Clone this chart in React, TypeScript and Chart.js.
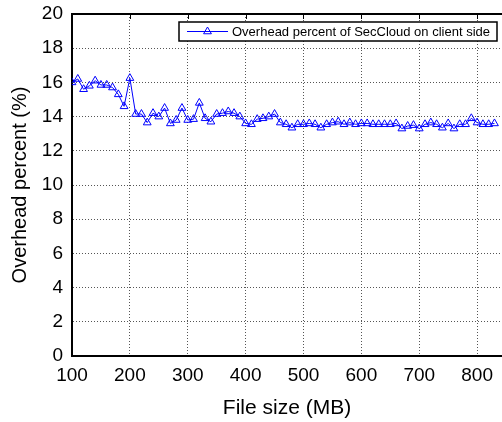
import React, { useEffect, useRef } from "react";
import { Chart, registerables } from "chart.js";

Chart.register(...registerables);

const fileSizes: number[] = [
  100, 110, 120, 130, 140, 150, 160, 170, 180, 190,
  200, 210, 220, 230, 240, 250, 260, 270, 280, 290,
  300, 310, 320, 330, 340, 350, 360, 370, 380, 390,
  400, 410, 420, 430, 440, 450, 460, 470, 480, 490,
  500, 510, 520, 530, 540, 550, 560, 570, 580, 590,
  600, 610, 620, 630, 640, 650, 660, 670, 680, 690,
  700, 710, 720, 730, 740, 750, 760, 770, 780, 790,
  800, 810, 820, 830,
];

const overheadPercent: number[] = [
  16.0, 16.2, 15.6, 15.8, 16.1, 15.85, 15.85, 15.7, 15.3, 14.6,
  16.25, 14.15, 14.15, 13.65, 14.2, 14.0, 14.5, 13.6, 13.8, 14.5,
  13.8, 13.85, 14.8, 13.9, 13.7, 14.15, 14.2, 14.3, 14.2, 14.0,
  13.6, 13.55, 13.85, 13.9, 14.0, 14.15, 13.65, 13.55, 13.35, 13.55,
  13.55, 13.6, 13.55, 13.35, 13.55, 13.65, 13.7, 13.55, 13.65, 13.55,
  13.6, 13.6, 13.55, 13.55, 13.55, 13.55, 13.6, 13.3, 13.45, 13.5,
  13.3, 13.55, 13.65, 13.55, 13.35, 13.6, 13.3, 13.55, 13.55, 13.9,
  13.65, 13.55, 13.55, 13.6,
];

const xTickValues: number[] = [100, 200, 300, 400, 500, 600, 700, 800];
const yTickValues: number[] = [0, 2, 4, 6, 8, 10, 12, 14, 16, 18, 20];

const seriesLabel = "Overhead percent of SecCloud on client side";
const xTitle = "File size (MB)";
const yTitle = "Overhead percent (%)";

const FONT = "'Liberation Sans', Arial, Helvetica, sans-serif";
const BLUE = "#0000ff";

const frameLegendPlugin = {
  id: "frameLegend",
  afterDraw(chart: any) {
    const { ctx, chartArea } = chart;
    const xs = chart.scales.x;
    ctx.save();
    ctx.strokeStyle = "#000";
    ctx.lineWidth = 2;
    ctx.beginPath();
    ctx.moveTo(chartArea.left - 1, chartArea.top);
    ctx.lineTo(chartArea.right, chartArea.top);
    ctx.stroke();
    ctx.lineWidth = 1;
    xs.ticks.forEach((t: any) => {
      const px = Math.round(xs.getPixelForValue(t.value)) + 0.5;
      ctx.beginPath();
      ctx.moveTo(px, chartArea.top);
      ctx.lineTo(px, chartArea.top + 5);
      ctx.stroke();
    });

    const w = 318;
    const h = 19;
    const bx = chartArea.right - 5 - w;
    const by = chartArea.top + 8;
    ctx.fillStyle = "#fff";
    ctx.fillRect(bx, by, w, h);
    ctx.lineWidth = 1.5;
    ctx.strokeStyle = "#000";
    ctx.strokeRect(bx, by, w, h);
    const cy = by + h / 2;
    ctx.strokeStyle = BLUE;
    ctx.lineWidth = 1;
    ctx.beginPath();
    ctx.moveTo(bx + 8, cy);
    ctx.lineTo(bx + 49, cy);
    ctx.stroke();
    const r = 4.5;
    const cx = bx + 28.5;
    ctx.beginPath();
    for (let i = 0; i < 3; i++) {
      const a = (i * 2 * Math.PI) / 3;
      const px = cx + Math.sin(a) * r;
      const py = cy - Math.cos(a) * r;
      if (i === 0) ctx.moveTo(px, py);
      else ctx.lineTo(px, py);
    }
    ctx.closePath();
    ctx.stroke();
    ctx.fillStyle = "#000";
    ctx.font = `13px ${FONT}`;
    ctx.textBaseline = "middle";
    ctx.textAlign = "left";
    ctx.fillText(seriesLabel, bx + 53, cy + 0.5);
    ctx.restore();
  },
};

export default function App() {
  const canvasRef = useRef<HTMLCanvasElement | null>(null);

  useEffect(() => {
    if (!canvasRef.current) return;
    const chart = new Chart(canvasRef.current, {
      type: "line",
      data: {
        datasets: [
          {
            label: seriesLabel,
            data: fileSizes.map((x, i) => ({ x, y: overheadPercent[i] })),
            borderColor: BLUE,
            borderWidth: 1,
            backgroundColor: "rgba(0,0,0,0)",
            pointStyle: "triangle",
            pointRadius: 4.5,
            pointBorderWidth: 1,
            pointBorderColor: BLUE,
            pointBackgroundColor: "rgba(0,0,0,0)",
            tension: 0,
            fill: false,
          },
        ],
      },
      options: {
        responsive: false,
        animation: false,
        devicePixelRatio: 1,
        layout: { autoPadding: false, padding: { top: 14, right: 0, bottom: 0, left: 0 } },
        plugins: {
          legend: { display: false },
          tooltip: { enabled: false },
        },
        scales: {
          x: {
            type: "linear",
            min: 100,
            max: 843,
            afterBuildTicks: (scale: any) => {
              scale.ticks = xTickValues.map((v) => ({ value: v }));
            },
            afterFit: (scale: any) => {
              scale.height = 66;
              scale.paddingLeft = 0;
              scale.paddingRight = 0;
            },
            ticks: {
              color: "#000",
              font: { family: FONT, size: 19 },
              padding: 8,
              maxRotation: 0,
              autoSkip: false,
            },
            grid: {
              color: "#555",
              lineWidth: 1,
              drawTicks: false,
            },
            border: { display: true, color: "#000", width: 2, dash: [1, 2] },
            title: {
              display: true,
              text: xTitle,
              color: "#000",
              font: { family: FONT, size: 21 },
              padding: { top: 0, bottom: 1 },
            },
          },
          y: {
            type: "linear",
            min: 0,
            max: 20,
            afterBuildTicks: (scale: any) => {
              scale.ticks = yTickValues.map((v) => ({ value: v }));
            },
            afterFit: (scale: any) => {
              scale.width = 72;
              scale.paddingTop = 0;
              scale.paddingBottom = 0;
            },
            ticks: {
              color: "#000",
              font: { family: FONT, size: 19 },
              padding: 9,
              autoSkip: false,
            },
            grid: {
              color: "#555",
              lineWidth: 1,
              drawTicks: false,
            },
            border: { display: true, color: "#000", width: 2, dash: [1, 2] },
            title: {
              display: true,
              text: yTitle,
              color: "#000",
              font: { family: FONT, size: 20 },
              padding: { top: 8, bottom: 0 },
            },
          },
        },
      },
      plugins: [frameLegendPlugin],
    });
    return () => chart.destroy();
  }, []);

  return (
    <div style={{ position: "absolute", left: 0, top: 0, width: 502, height: 422, background: "#fff" }}>
      <canvas ref={canvasRef} width={502} height={422} />
    </div>
  );
}
